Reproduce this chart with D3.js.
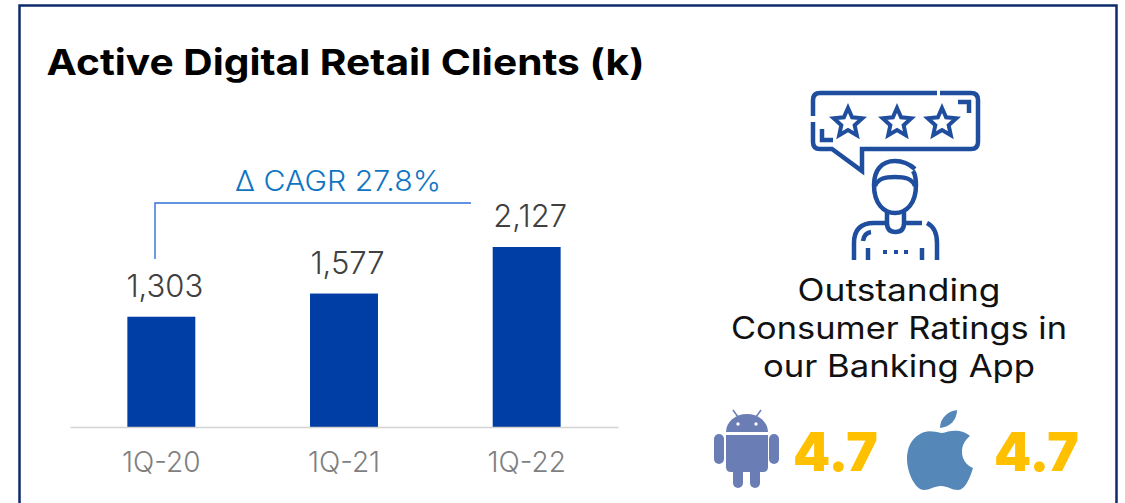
<!DOCTYPE html>
<html>
<head>
<meta charset="utf-8">
<title>Active Digital Retail Clients</title>
<script src="https://d3js.org/d3.v7.min.js"></script>
<style>
  html, body { margin: 0; padding: 0; background: #fff; overflow: hidden; }
  svg { display: block; }
  text { font-family: Inter, "Noto Sans", sans-serif; }
</style>
</head>
<body>
<div id="chart"></div>
<script>
  var categories = ["1Q-20", "1Q-21", "1Q-22"]
  var clients = [1303, 1577, 2127]
  var titleText = "Active Digital Retail Clients (k)"
  var cagrText = "Δ CAGR 27.8%"
  var ratingLines = ["Outstanding", "Consumer Ratings in", "our Banking App"]
  var ratings = ["4.7", "4.7"]

  var width = 1125
  var height = 503

  // the original face is wider than Inter, so these texts get stretched to fit
  var ratingLineWidths = [203, 336, 272]

  var svg = d3.select("#chart").append("svg")
    .attr("width", width)
    .attr("height", height)

  // frame runs off the bottom of the picture
  svg.append("path")
    .attr("d", "M19.5,503V5.5H1116.5V503")
    .attr("fill", "none")
    .attr("stroke", "#0e2a6e")
    .attr("stroke-width", 2.5)

  svg.append("text")
    .attr("x", 46.5)
    .attr("y", 74.5)
    .attr("font-size", 36)
    .attr("font-weight", 700)
    .attr("fill", "#000")
    .attr("textLength", 598)
    .attr("lengthAdjust", "spacingAndGlyphs")
    .text(titleText)

  var x = d3.scaleBand()
    .domain(categories)
    .range([70, 618])
    .paddingInner(0.628)
    .paddingOuter(0.314)

  var y = d3.scaleLinear()
    .domain([0, d3.max(clients)])
    .range([427, 247])

  svg.selectAll("rect.bar")
    .data(clients)
    .enter()
    .append("rect")
      .attr("class", "bar")
      .attr("x", function(d, i) { return x(categories[i]) })
      .attr("y", function(d) { return y(d) })
      .attr("width", x.bandwidth())
      .attr("height", function(d) { return y(0) - y(d) })
      .attr("fill", "#003da5")

  svg.selectAll("text.value")
    .data(clients)
    .enter()
    .append("text")
      .attr("class", "value")
      .attr("x", function(d, i) { return x(categories[i]) + x.bandwidth() / 2 + 3.5 })
      .attr("y", function(d) { return y(d) - 20 })
      .attr("text-anchor", "middle")
      .attr("font-size", 31)
      .attr("font-weight", 300)
      .attr("fill", "#404040")
      .text(d3.format(","))

  var axis = svg.append("g")
    .attr("transform", "translate(0," + y(0) + ")")
    .call(d3.axisBottom(x).tickSize(0).tickPadding(25))

  axis.select(".domain").attr("stroke", "#d4d4d4").attr("stroke-width", 1.5)
  axis.selectAll("text")
    .attr("font-family", "Inter")
    .attr("font-size", 28)
    .attr("font-weight", 300)
    .attr("fill", "#7f7f7f")

  // CAGR bracket
  svg.append("path")
    .attr("d", "M155,259V203H471")
    .attr("fill", "none")
    .attr("stroke", "#2f6fd6")
    .attr("stroke-width", 1.4)

  svg.append("text")
    .attr("x", 338)
    .attr("y", 191)
    .attr("text-anchor", "middle")
    .attr("font-size", 28)
    .attr("font-weight", 300)
    .attr("fill", "#0f75c3")
    .attr("textLength", 206)
    .attr("lengthAdjust", "spacingAndGlyphs")
    .text(cagrText)

  // review icon
  var icon = svg.append("g")
    .attr("fill", "none")
    .attr("stroke", "#1f4e9e")
    .attr("stroke-width", 4.5)

  var iconPaths = [
    "M813,116V100Q813,93 820,93H937",
    "M940,93H971Q978,93 978,100V142Q978,149 971,149H862V171L832,149H820Q813,149 813,142V122",
    "M958,102H969V113",
    "M822,129V140H833",
    // head and hair
    "M915,169Q906,161 895,161C881,161 874,171 874,185C874,204 884,213 895,213C906,213 916,204 916,185C916,178 915,174 913,171",
    "M875,186C878,178 886,177 895,177C904,177 912,178 915,186",
    // neck
    "M887,212V223Q887,232 895.5,232Q904,232 904,223V212",
    // shoulders
    "M887,223H874Q854,223 854,243V260",
    "M904,223H922",
    "M927,223Q937,228 937,243V260",
    "M871,232Q864,233 863,241",
    "M868,248V260",
    "M922,248V260"
  ]

  icon.selectAll("path.line")
    .data(iconPaths)
    .enter()
    .append("path")
      .attr("class", "line")
      .attr("d", function(d) { return d })

  var starCenters = [848, 897, 942]
  var star = d3.lineRadial()
    .angle(function(d, i) { return i * Math.PI / 5 })
    .radius(function(d) { return d })
    .curve(d3.curveLinearClosed)

  icon.selectAll("path.star")
    .data(starCenters)
    .enter()
    .append("path")
      .attr("class", "star")
      .attr("transform", function(d) { return "translate(" + d + ",123)" })
      .attr("stroke-width", 4)
      .attr("d", star([15, 7, 15, 7, 15, 7, 15, 7, 15, 7]))

  icon.selectAll("rect.dot")
    .data([885, 896, 906])
    .enter()
    .append("rect")
      .attr("class", "dot")
      .attr("x", function(d) { return d - 2 })
      .attr("y", 250)
      .attr("width", 4)
      .attr("height", 4)
      .attr("fill", "#1f4e9e")
      .attr("stroke", "none")

  svg.selectAll("text.rating-line")
    .data(ratingLines)
    .enter()
    .append("text")
      .attr("class", "rating-line")
      .attr("x", 899)
      .attr("y", function(d, i) { return 301 + i * 38 })
      .attr("text-anchor", "middle")
      .attr("font-size", 30.5)
      .attr("font-weight", 400)
      .attr("fill", "#111")
      .attr("textLength", function(d, i) { return ratingLineWidths[i] })
      .attr("lengthAdjust", "spacingAndGlyphs")
      .text(function(d) { return d })

  // android
  var android = svg.append("g").attr("fill", "#6a7db5")
  android.append("path").attr("d", "M726,432A21,18 0 0 1 768,432Z")
  android.append("path").attr("d", "M726,435H768V467Q768,472 763,472H731Q726,472 726,467Z")
  android.append("rect").attr("x", 714).attr("y", 434).attr("width", 10).attr("height", 30).attr("rx", 5)
  android.append("rect").attr("x", 769).attr("y", 434).attr("width", 10).attr("height", 30).attr("rx", 5)
  android.append("rect").attr("x", 733).attr("y", 465).attr("width", 10).attr("height", 23).attr("rx", 5)
  android.append("rect").attr("x", 750).attr("y", 465).attr("width", 10).attr("height", 23).attr("rx", 5)
  android.append("path")
    .attr("d", "M738,417L733,410M756,417L761,410")
    .attr("stroke", "#6a7db5")
    .attr("stroke-width", 1.5)
  android.append("circle").attr("cx", 738).attr("cy", 424).attr("r", 1.7).attr("fill", "#fff")
  android.append("circle").attr("cx", 756).attr("cy", 424).attr("r", 1.7).attr("fill", "#fff")

  // apple
  var apple = svg.append("g").attr("fill", "#5588b8")
  apple.append("path").attr("d", "M940,428C940,418 948,411 957,410C957,420 950,427 940,428Z")
  apple.append("path").attr("d", "M941,433C933,431 926,430 920,434C911,439 907,448 907,459C907,472 915,490 924,490C930,490 934,486 941,486C948,486 951,490 958,490C965,490 970,478 973,468C966,465 962,459 962,452C962,445 965,440 970,436C965,431 957,430 952,431C948,431 945,433 941,433Z")

  svg.selectAll("text.rating")
    .data(ratings)
    .enter()
    .append("text")
      .attr("class", "rating")
      .attr("x", function(d, i) { return i == 0 ? 793 : 994 })
      .attr("y", 471)
      .attr("font-size", 53)
      .attr("font-weight", 900)
      .attr("fill", "#ffc000")
      .text(function(d) { return d })
</script>
</body>
</html>
